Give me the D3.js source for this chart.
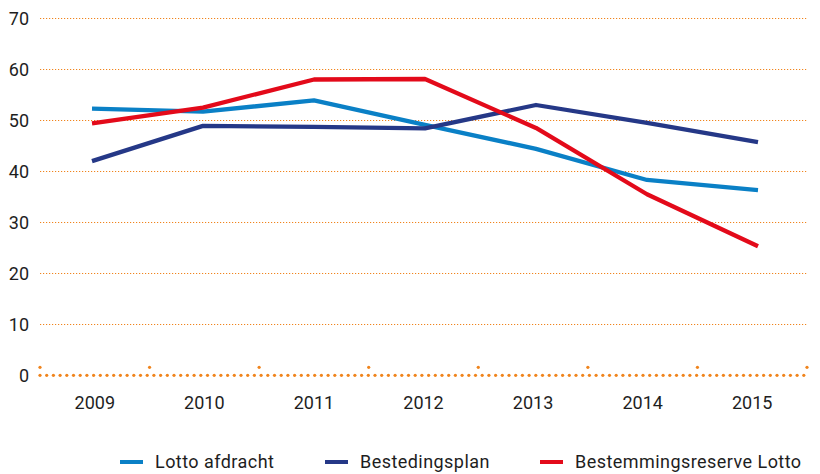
<!DOCTYPE html>
<html>
<head>
<meta charset="utf-8">
<script src="https://cdnjs.cloudflare.com/ajax/libs/d3/7.8.5/d3.min.js"></script>
<style>
  body { margin: 0; background: #fff; }
  svg text { font-family: Roboto, "DejaVu Sans", sans-serif; fill: #1e1e1e; }
</style>
</head>
<body>
<svg id="chart"></svg>
<script>
const years = ['2009', '2010', '2011', '2012', '2013', '2014', '2015'];
const lottoAfdracht = [52.3, 51.7, 53.9, 49.1, 44.4, 38.3, 36.3];
const bestedingsplan = [42.0, 48.9, 48.7, 48.4, 53.0, 49.5, 45.7];
const bestemmingsreserve = [49.4, 52.5, 58.0, 58.1, 48.5, 35.5, 25.3];
const yTicks = [0, 10, 20, 30, 40, 50, 60, 70];
const seriesNames = ['Lotto afdracht', 'Bestedingsplan', 'Bestemmingsreserve Lotto'];

const colors = ['#0a80c6', '#253887', '#e30a1a'];
const orange = '#f0841c';

const width = 820, height = 474;
const svg = d3.select('#chart').attr('width', width).attr('height', height);

const x = d3.scaleBand().domain(years).range([40, 807]);
const xLine = d3.scalePoint().domain(years).range([92, 758]);
const y = d3.scaleLinear().domain([0, 70]).range([375.3, 18.3]);

// grid lines
svg.append('g')
  .selectAll('line')
  .data(yTicks.filter(d => d > 0))
  .join('line')
  .attr('x1', 40).attr('x2', 807)
  .attr('y1', d => Math.round(y(d)) + 0.5)
  .attr('y2', d => Math.round(y(d)) + 0.5)
  .attr('stroke', orange)
  .attr('stroke-width', 1)
  .attr('stroke-dasharray', '1.2,1.8');

// y labels
svg.append('g')
  .selectAll('text')
  .data(yTicks)
  .join('text')
  .attr('x', 29)
  .attr('y', d => y(d))
  .attr('dy', '0.36em')
  .attr('text-anchor', 'end')
  .style('font-size', '18px')
  .text(d => d);

// x axis: dotted zero line with dot ticks
const xAxis = svg.append('g');
const zeroDots = d3.range(40, 808, 6.7);
xAxis.selectAll('circle.z')
  .data(zeroDots)
  .join('circle')
  .attr('class', 'z')
  .attr('cx', d => d)
  .attr('cy', y(0))
  .attr('r', 1.6)
  .attr('fill', orange);

const bounds = years.map(d => x(d)).concat([x.range()[1]]);
xAxis.selectAll('circle.t')
  .data(bounds)
  .join('circle')
  .attr('class', 't')
  .attr('cx', d => d)
  .attr('cy', y(0) - 8)
  .attr('r', 1.6)
  .attr('fill', orange);

xAxis.selectAll('text')
  .data(years)
  .join('text')
  .attr('x', d => x(d) + x.bandwidth() / 2)
  .attr('y', 409)
  .attr('text-anchor', 'middle')
  .style('font-size', '18px')
  .text(d => d);

// lines
const line = d3.line()
  .x((d, i) => xLine(years[i]))
  .y(d => y(d));

[lottoAfdracht, bestedingsplan, bestemmingsreserve].forEach((vals, i) => {
  svg.append('path')
    .datum(vals)
    .attr('fill', 'none')
    .attr('stroke', colors[i])
    .attr('stroke-width', 4.3)
    .attr('stroke-linejoin', 'round')
    .attr('d', line);
});

// legend
const legendX = [120, 325, 540];
const legend = svg.append('g');
seriesNames.forEach((name, i) => {
  legend.append('line')
    .attr('x1', legendX[i]).attr('x2', legendX[i] + 23)
    .attr('y1', 462).attr('y2', 462)
    .attr('stroke', colors[i])
    .attr('stroke-width', 4);
  legend.append('text')
    .attr('x', legendX[i] + 35)
    .attr('y', 462)
    .attr('dy', '0.36em')
    .style('font-size', '18px')
    .style('letter-spacing', '0.45px')
    .text(name);
});
</script>
</body>
</html>
